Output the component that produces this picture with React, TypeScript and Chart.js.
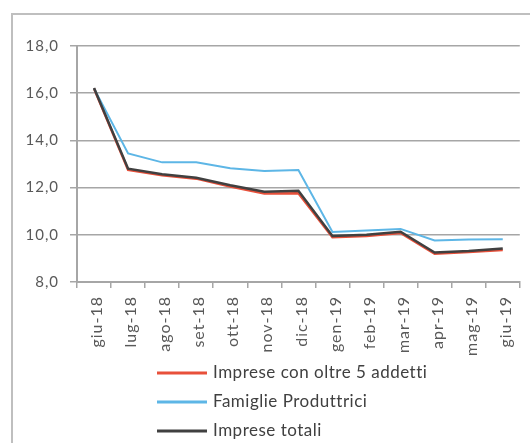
import React, { useEffect, useRef } from "react";
import { Chart, registerables } from "chart.js";

Chart.register(...registerables);

const categories = [
  "giu-18", "lug-18", "ago-18", "set-18", "ott-18", "nov-18", "dic-18",
  "gen-19", "feb-19", "mar-19", "apr-19", "mag-19", "giu-19",
];

const impreseOltre5 = [16.2, 12.75, 12.52, 12.38, 12.05, 11.75, 11.76, 9.9, 9.95, 10.08, 9.2, 9.27, 9.36];
const famiglieProduttrici = [16.2, 13.45, 13.07, 13.07, 12.82, 12.7, 12.75, 10.12, 10.18, 10.25, 9.76, 9.8, 9.81];
const impreseTotali = [16.22, 12.8, 12.57, 12.42, 12.1, 11.82, 11.87, 9.95, 10.0, 10.13, 9.25, 9.31, 9.42];

const yTicks = [8, 10, 12, 14, 16, 18];

const seriesLabels = ["Imprese con oltre 5 addetti", "Famiglie Produttrici", "Imprese totali"];
const seriesColors = ["#E8503A", "#5DB6E6", "#404040"];

const FONT = "Lato, 'Open Sans', sans-serif";
const TEXT_COLOR = "#595959";
const GRID_COLOR = "#A6A6A6";

const spacing: Record<string, string> = { x: "1px", y: "1px" };

const frameAndLegend = {
  id: "frameAndLegend",
  afterLayout(chart: any) {
    ["x", "y"].forEach((id) => {
      const s = chart.scales[id];
      if (!s || s.__wrapped) return;
      const orig = s.drawLabels.bind(s);
      s.drawLabels = (area: any) => {
        const ctx = s.ctx;
        ctx.save();
        try { ctx.letterSpacing = spacing[id]; } catch (e) {}
        orig(area);
        ctx.restore();
      };
      s.__wrapped = true;
    });
  },
  beforeDraw(chart: any) {
    const ctx = chart.ctx;
    ctx.save();
    ctx.fillStyle = "#ffffff";
    ctx.fillRect(0, 0, chart.width, chart.height);
    ctx.strokeStyle = "#BFBFBF";
    ctx.lineWidth = 2;
    ctx.strokeRect(12, 14, chart.width + 100, chart.height + 100);
    ctx.restore();
  },
  afterDraw(chart: any) {
    const ctx = chart.ctx;
    const ds = chart.data.datasets;
    const x0 = 157;
    const x1 = 207;
    const startY = 373;
    const step = 29;
    ctx.save();
    ctx.font = `17px ${FONT}`;
    ctx.textBaseline = "middle";
    ctx.textAlign = "left";
    try { (ctx as any).letterSpacing = "0.5px"; } catch (e) {}
    ds.forEach((d: any, i: number) => {
      const y = startY + i * step;
      ctx.strokeStyle = d.borderColor;
      ctx.lineWidth = 3;
      ctx.beginPath();
      ctx.moveTo(x0, y);
      ctx.lineTo(x1, y);
      ctx.stroke();
      ctx.fillStyle = "#404040";
      ctx.fillText(d.label, x1 + 6, y);
    });
    ctx.restore();
  },
};

export default function App() {
  const ref = useRef<HTMLCanvasElement | null>(null);

  useEffect(() => {
    if (!ref.current) return;
    const chart = new Chart(ref.current, {
      type: "line",
      data: {
        labels: categories,
        datasets: [
          { label: seriesLabels[0], data: impreseOltre5, borderColor: seriesColors[0], backgroundColor: seriesColors[0], borderWidth: 2.5, pointRadius: 0, tension: 0, order: 2 },
          { label: seriesLabels[1], data: famiglieProduttrici, borderColor: seriesColors[1], backgroundColor: seriesColors[1], borderWidth: 2, pointRadius: 0, tension: 0, order: 1 },
          { label: seriesLabels[2], data: impreseTotali, borderColor: seriesColors[2], backgroundColor: seriesColors[2], borderWidth: 2.5, pointRadius: 0, tension: 0, order: 0 },
        ],
      },
      options: {
        animation: false,
        responsive: false,
        maintainAspectRatio: false,
        devicePixelRatio: 1,
        layout: { padding: { left: 0, top: 46, right: 1, bottom: 81 } },
        plugins: { legend: { display: false }, tooltip: { enabled: false } },
        scales: {
          x: {
            type: "category",
            offset: true,
            grid: { display: true, drawOnChartArea: false, drawTicks: true, tickLength: 6, color: GRID_COLOR, lineWidth: 1.5, offset: true },
            border: { display: true, color: GRID_COLOR, width: 2 },
            ticks: { minRotation: 90, maxRotation: 90, autoSkip: false, padding: 8, labelOffset: 3, color: TEXT_COLOR, font: { family: FONT, size: 16 } },
            afterFit(scale: any) { scale.height = 80; },
          },
          y: {
            type: "linear",
            min: 8,
            max: 18,
            afterBuildTicks(scale: any) { scale.ticks = yTicks.map((v) => ({ value: v })); },
            grid: { color: GRID_COLOR, lineWidth: 1.5, drawTicks: true, tickLength: 7 },
            border: { display: true, color: GRID_COLOR, width: 2 },
            ticks: { padding: 11, color: TEXT_COLOR, font: { family: FONT, size: 15 }, callback: (v: any) => Number(v).toFixed(1).replace(".", ",") },
            afterFit(scale: any) { scale.width = 77; },
          },
        },
      },
      plugins: [frameAndLegend],
    });
    return () => chart.destroy();
  }, []);

  return (
    <div style={{ position: "absolute", left: 0, top: 0, width: 530, height: 443 }}>
      <canvas ref={ref} width={530} height={443} style={{ display: "block" }} />
    </div>
  );
}
